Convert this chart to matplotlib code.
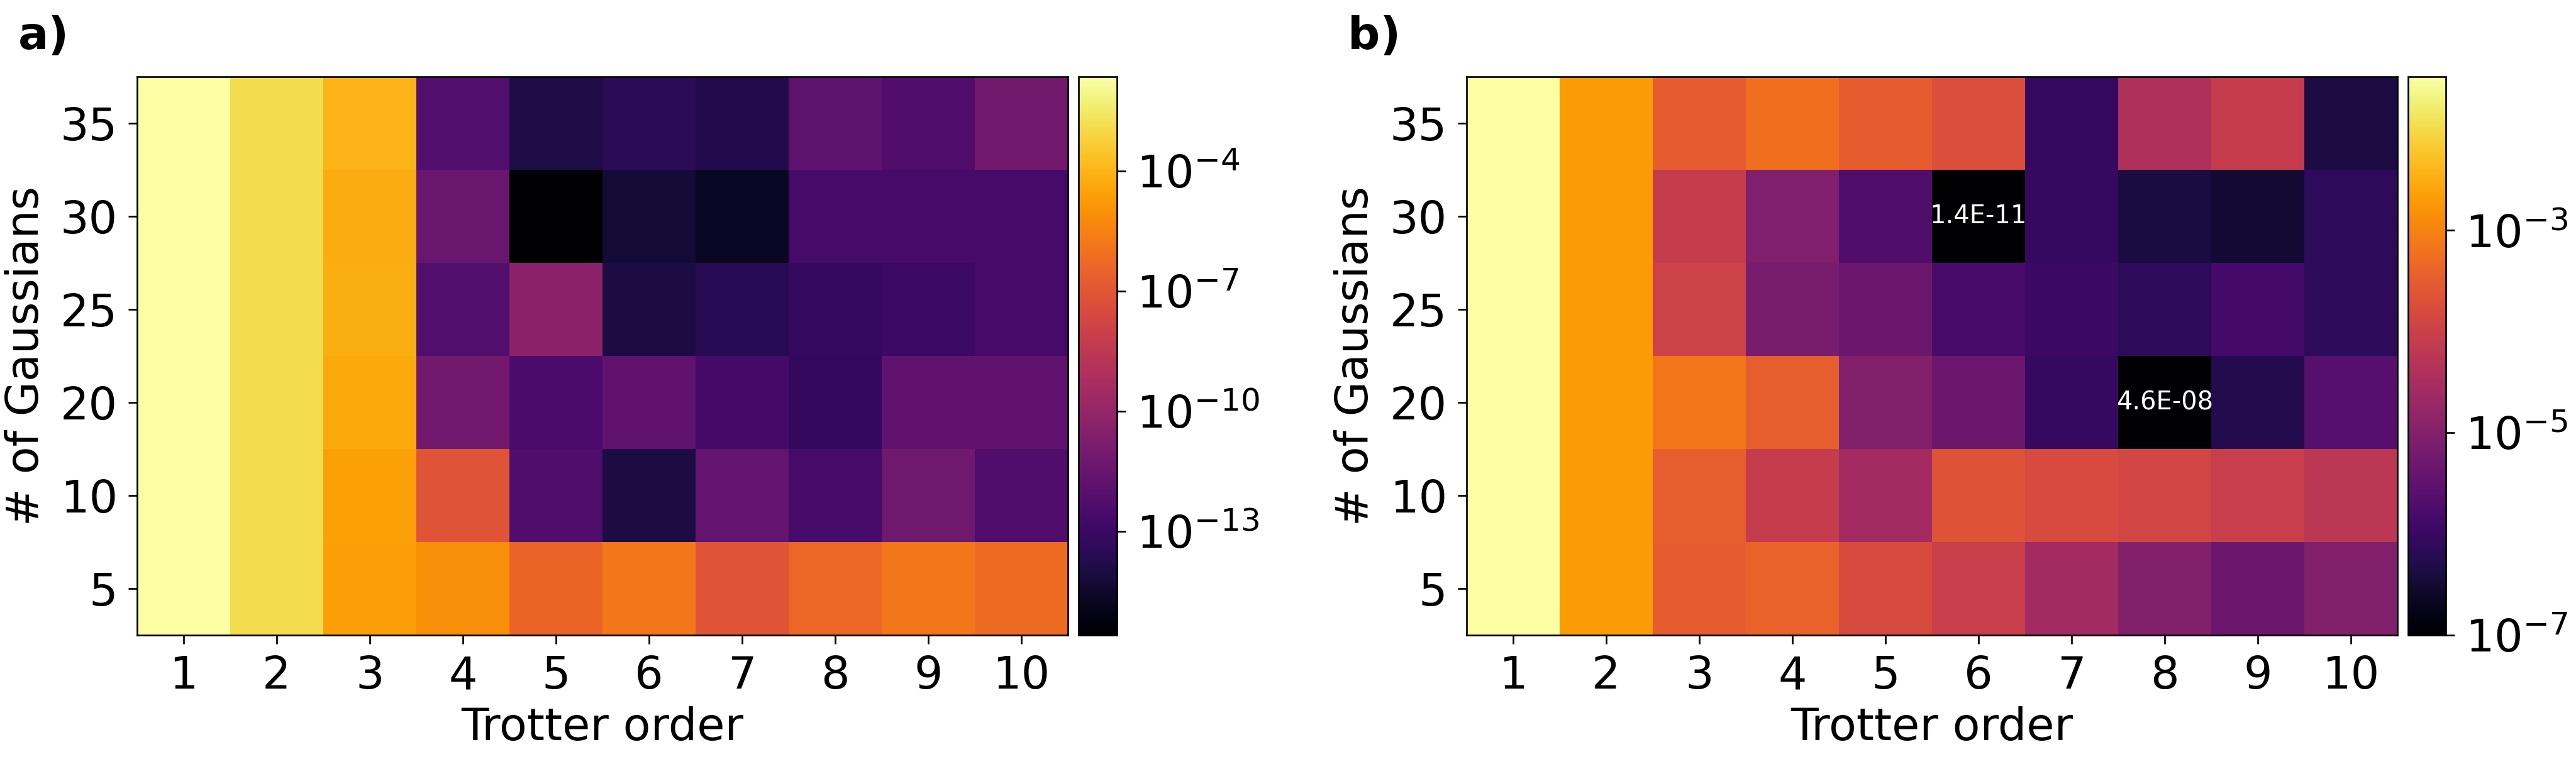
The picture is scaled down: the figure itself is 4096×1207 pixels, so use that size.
import numpy as np
import matplotlib
matplotlib.use("Agg")
from matplotlib import pyplot as plt
from matplotlib.colors import LogNorm

# axis labels
trotter_order = [1, 2, 3, 4, 5, 6, 7, 8, 9, 10]
n_gaussians = [5, 10, 20, 25, 30, 35]   # rows from bottom to top

# panel a) errors, rows = n_gaussians, cols = trotter_order
err_a = [
    [2.3e-2, 1.3e-3, 2.3e-5, 7.6e-6, 3.5e-7, 1.5e-6, 8.3e-8, 4.2e-7, 1.5e-6, 5.8e-7],      # 5
    [2.3e-2, 1.3e-3, 2.7e-5, 8.3e-8, 4.8e-13, 1.0e-14, 2.0e-12, 2.5e-13, 5.4e-12, 4.8e-13],  # 10
    [2.3e-2, 1.3e-3, 5.0e-5, 7.4e-12, 3.0e-13, 1.5e-12, 2.1e-13, 5.0e-14, 1.7e-12, 1.7e-12],  # 20
    [2.3e-2, 1.3e-3, 7.0e-5, 5.6e-13, 5.1e-11, 1.0e-14, 2.3e-14, 7.0e-14, 1.1e-13, 2.5e-13],  # 25
    [2.3e-2, 1.3e-3, 6.0e-5, 3.3e-12, 2.5e-16, 5.4e-15, 2.0e-15, 2.5e-13, 2.5e-13, 2.5e-13],  # 30
    [2.3e-2, 1.3e-3, 1.0e-4, 5.6e-13, 1.2e-14, 3.2e-14, 1.7e-14, 1.3e-12, 4.8e-13, 7.4e-12],  # 35
]

# panel b) errors
err_b = [
    [3.3e-2, 2.0e-3, 3.2e-4, 3.9e-4, 1.7e-4, 9.0e-5, 2.7e-5, 9.7e-6, 4.8e-6, 9.7e-6],   # 5
    [3.3e-2, 2.0e-3, 3.4e-4, 8.5e-5, 2.7e-5, 2.3e-4, 1.6e-4, 1.3e-4, 9.0e-5, 5.8e-5],   # 10
    [3.3e-2, 2.0e-3, 6.9e-4, 3.4e-4, 1.0e-5, 4.6e-6, 8.7e-7, 4.6e-8, 5.6e-7, 2.4e-6],   # 20
    [3.3e-2, 2.0e-3, 1.15e-4, 7.1e-6, 4.8e-6, 1.55e-6, 1.05e-6, 7.6e-7, 1.45e-6, 7.6e-7],  # 25
    [3.3e-2, 2.0e-3, 8.5e-5, 9.1e-6, 2.0e-6, 1.4e-11, 9.3e-7, 4.1e-7, 3.2e-7, 7.6e-7],  # 30
    [3.3e-2, 2.0e-3, 3.2e-4, 5.7e-4, 3.2e-4, 1.8e-4, 8.7e-7, 3.9e-5, 8.5e-5, 4.3e-7],   # 35
]
vmin_b = 1e-7

cbar_ticks_a = [1e-13, 1e-10, 1e-7, 1e-4]
cbar_ticks_b = [1e-7, 1e-5, 1e-3]

plt.rcParams["font.size"] = 21.5

dpi = 240
fig = plt.figure(figsize=(4096 / dpi, 1207 / dpi), dpi=dpi)

W, H = 4096, 1207
def px_axes(x0, y0, x1, y1):
    # pixel box (top-left origin) -> figure axes
    return fig.add_axes([x0 / W, 1 - y1 / H, (x1 - x0) / W, (y1 - y0) / H])

ax_a = px_axes(218, 122, 1698, 1010)
cax_a = px_axes(1715, 122, 1776, 1010)
ax_b = px_axes(2332, 122, 3812, 1010)
cax_b = px_axes(3829, 122, 3889, 1010)

panels = [
    (ax_a, cax_a, np.array(err_a), None, cbar_ticks_a, "a)"),
    (ax_b, cax_b, np.array(err_b), vmin_b, cbar_ticks_b, "b)"),
]

for ax, cax, data, vmin, ticks, tag in panels:
    norm = LogNorm(vmin=vmin if vmin else data.min(), vmax=data.max())
    im = ax.imshow(data, cmap="inferno", norm=norm, origin="lower", aspect="auto")
    ax.set_xticks(range(len(trotter_order)))
    ax.set_xticklabels(trotter_order)
    ax.set_yticks(range(len(n_gaussians)))
    ax.set_yticklabels(n_gaussians)
    ax.tick_params(length=4.3, pad=5)
    ax.set_xlabel("Trotter order", labelpad=4)
    ax.set_ylabel("# of Gaussians", labelpad=6)
    ax.text(-0.128, 1.05, tag, transform=ax.transAxes, fontweight="bold",
            va="baseline", ha="left")

    # values below the colour range get written in
    if vmin:
        for i in range(data.shape[0]):
            for j in range(data.shape[1]):
                if data[i, j] < vmin:
                    ax.text(j, i, "%.1E" % data[i, j], color="white",
                            ha="center", va="center", fontsize=12)

    cb = fig.colorbar(im, cax=cax)
    cb.set_ticks(ticks)
    cb.ax.minorticks_off()
    cb.ax.tick_params(length=4.3, pad=5)

fig.savefig("out.png", dpi=dpi)
